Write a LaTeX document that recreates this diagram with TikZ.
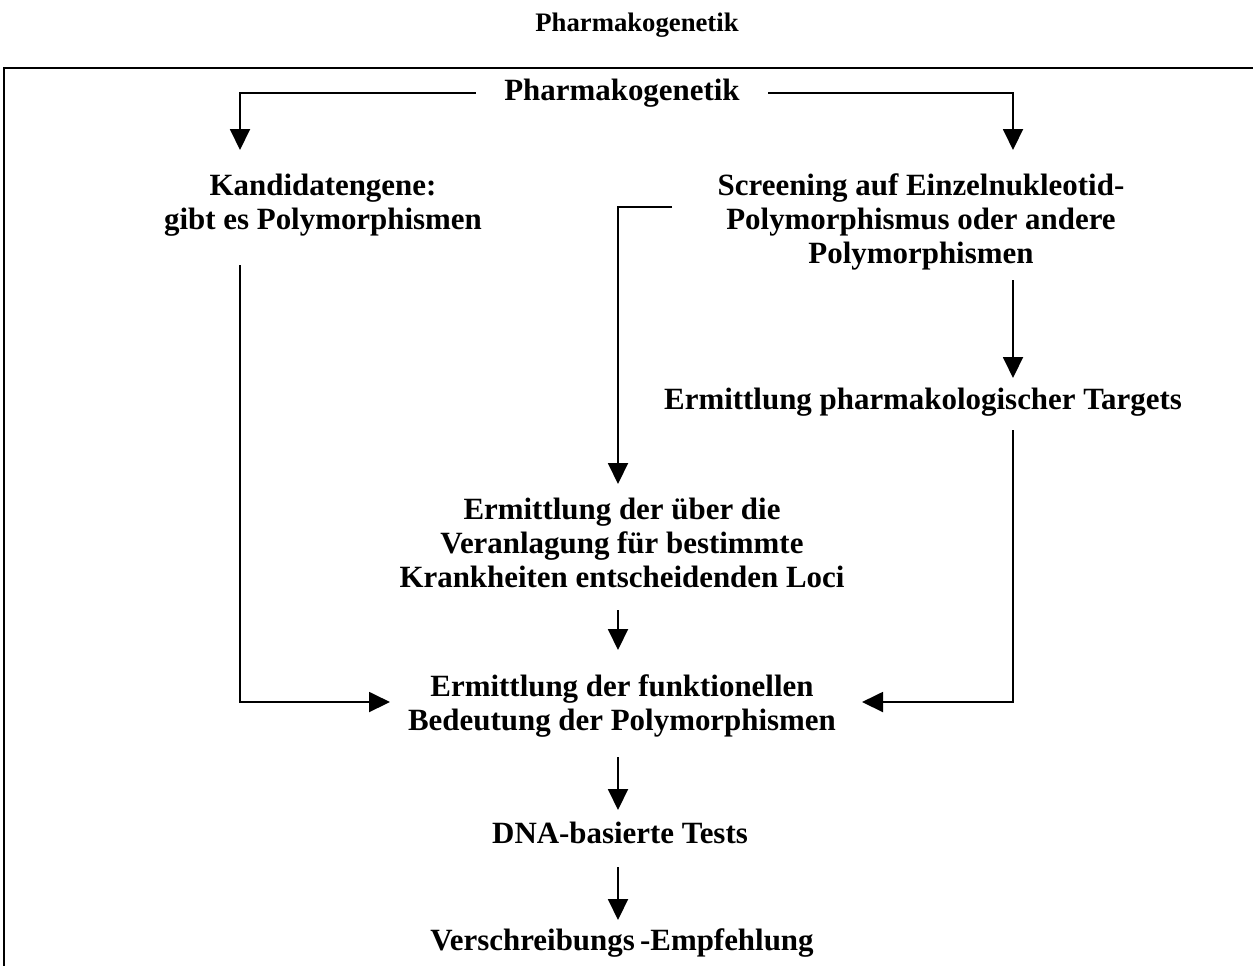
\documentclass[tikz,border=0pt]{standalone}
\usepackage{fontspec}
\setmainfont{Liberation Serif}
\usetikzlibrary{positioning,calc}
\usetikzlibrary{arrows.meta}
\tikzset{
  txt/.style={font=\bfseries\fontsize{17.6}{19.4}\selectfont,align=center,inner sep=0pt},
  head/.style={font=\bfseries\fontsize{15.2}{17}\selectfont,inner sep=0pt},
  link/.style={draw=black,line width=1.1pt},
  flow/.style={link,-{Triangle[length=0.42cm,width=0.4cm]}},
}
\begin{document}
\begin{tikzpicture}[x=0.02cm,y=-0.02cm]
\useasboundingbox (0,0) rectangle (1253,965);
\draw[line width=0.9pt] (4,980) -- (4,68) -- (1270,68);
\node[head] (title) at (637,25) {Pharmakogenetik};
\node[txt,inner xsep=0.56cm] (top) at (622,93) {Pharmakogenetik};
\node[txt] (kand) at (323,205) {Kandidatengene:\\gibt es Polymorphismen};
\node[txt] (screen) at (921,222) {Screening auf Einzelnukleotid-\\Polymorphismus oder andere\\Polymorphismen};
\node[txt] (targ) at (923,402) {Ermittlung pharmakologischer Targets};
\node[txt] (loci) at (622,543) {Ermittlung der über die\\Veranlagung für bestimmte\\Krankheiten entscheidenden Loci};
\node[txt] (funk) at (622,706) {Ermittlung der funktionellen\\Bedeutung der Polymorphismen};
\node[txt] (dna) at (620,833) {DNA-basierte Tests};
\node[txt] (rec) at (622,943) {Verschreibungs\kern3pt-Empfehlung};
\coordinate (kIn) at (240,150);
\coordinate (sIn) at (1013,150);
\coordinate (sOut) at (672,207);
\coordinate (lIn) at (618,484);
\coordinate (sDown) at (1013,280);
\coordinate (tIn) at (1013,378);
\coordinate (kOut) at (240,265);
\coordinate (tOut) at (1013,430);
\coordinate (fInL) at (390,702);
\coordinate (fInR) at (862,702);
\coordinate (lOut) at (618,610);
\coordinate (fIn) at (618,650);
\coordinate (fOut) at (618,757);
\coordinate (dIn) at (618,810);
\coordinate (dOut) at (618,867);
\coordinate (rIn) at (618,920);
\draw[flow] (top.west) -| (kIn);
\draw[flow] (top.east) -| (sIn);
\draw[flow] (sOut) -| (lIn);
\draw[flow] (sDown) -- (tIn);
\draw[flow] (kOut) |- (fInL);
\draw[flow] (tOut) |- (fInR);
\draw[flow] (lOut) -- (fIn);
\draw[flow] (fOut) -- (dIn);
\draw[flow] (dOut) -- (rIn);
\end{tikzpicture}
\end{document}
